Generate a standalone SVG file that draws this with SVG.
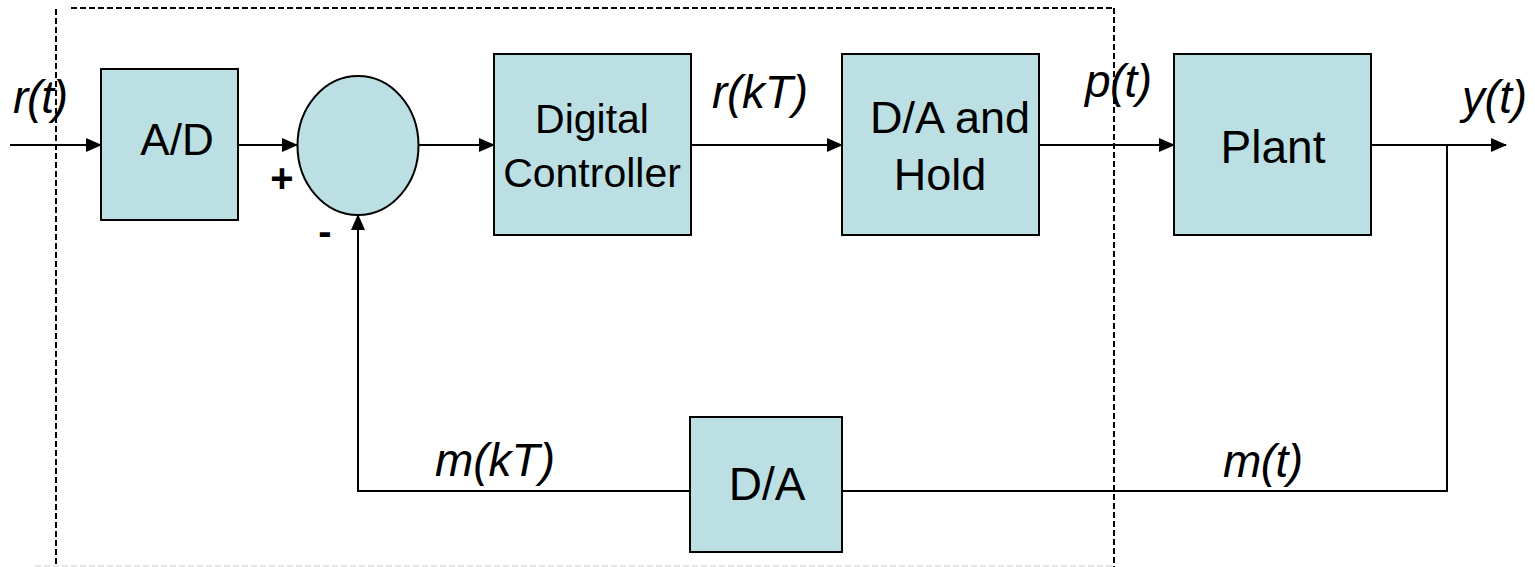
<svg xmlns="http://www.w3.org/2000/svg" width="1535" height="567" viewBox="0 0 1535 567">
  <style>
    .blk { fill: #BBDFE3; stroke: #000; stroke-width: 2; }
    .wire { fill: none; stroke: #000; stroke-width: 2; }
    .frame { fill: none; stroke: #000; stroke-width: 2; stroke-dasharray: 6 3; }
    .lbl { font-family: "Liberation Sans", Arial, sans-serif; fill: #000; text-anchor: middle; }
    .sig { font-family: "Liberation Sans", Arial, sans-serif; font-style: italic; fill: #000; font-size: 46px; }
  </style>
  <defs>
    <marker id="arr" markerWidth="16" markerHeight="14" refX="15" refY="7" orient="auto" markerUnits="userSpaceOnUse">
      <path d="M0,0 L16,7 L0,14 Z" fill="#000"/>
    </marker>
  </defs>
  <rect width="1535" height="567" fill="#fff"/>

  <!-- computer boundary -->
  <g id="boundary">
    <line class="frame" x1="71" y1="8" x2="1114" y2="8"/>
    <line class="frame" x1="56" y1="9" x2="56" y2="567"/>
    <line class="frame" x1="1114" y1="8" x2="1114" y2="567"/>
    <line x1="35" y1="566" x2="1114" y2="566" stroke="#ddd" stroke-width="1.5" stroke-dasharray="6 3"/>
  </g>

  <!-- connectors -->
  <g id="connectors">
    <line class="wire" x1="10" y1="145" x2="101" y2="145" marker-end="url(#arr)"/>
    <line class="wire" x1="238" y1="145" x2="297" y2="145" marker-end="url(#arr)"/>
    <line class="wire" x1="418" y1="145" x2="494" y2="145" marker-end="url(#arr)"/>
    <line class="wire" x1="691" y1="145" x2="842" y2="145" marker-end="url(#arr)"/>
    <line class="wire" x1="1039" y1="145" x2="1174" y2="145" marker-end="url(#arr)"/>
    <line class="wire" x1="1371" y1="145" x2="1506" y2="145" marker-end="url(#arr)"/>
    <polyline class="wire" points="1447,145 1447,491 842,491"/>
    <polyline class="wire" points="690,491 358,491 358,215" marker-end="url(#arr)"/>
  </g>

  <g id="ad">
    <rect class="blk" x="101" y="69" width="137" height="151"/>
    <text class="lbl" x="177" y="155" font-size="44">A/D</text>
  </g>

  <g id="sum">
    <ellipse class="blk" cx="358" cy="145.5" rx="60.5" ry="69.5"/>
    <text class="lbl" x="282" y="192" font-size="40" font-weight="bold">+</text>
    <text class="lbl" x="325" y="245" font-size="40" font-weight="bold">-</text>
  </g>

  <g id="controller">
    <rect class="blk" x="494" y="54" width="197" height="181"/>
    <text class="lbl" x="592" y="133" font-size="41">Digital</text>
    <text class="lbl" x="592" y="187" font-size="41">Controller</text>
  </g>

  <g id="dah">
    <rect class="blk" x="842" y="54" width="197" height="181"/>
    <text class="lbl" x="950" y="133" font-size="45">D/A and</text>
    <text class="lbl" x="940" y="190" font-size="45">Hold</text>
  </g>

  <g id="plant">
    <rect class="blk" x="1174" y="54" width="197" height="181"/>
    <text class="lbl" x="1273" y="163" font-size="46">Plant</text>
  </g>

  <g id="da">
    <rect class="blk" x="690" y="417" width="152" height="135"/>
    <text class="lbl" x="767" y="500" font-size="46">D/A</text>
  </g>

  <!-- signal labels -->
  <g id="signals">
    <text class="sig" x="13" y="113" textLength="55">r(t)</text>
    <text class="sig" x="712" y="108" textLength="96">r(kT)</text>
    <text class="sig" x="1085" y="97" textLength="67">p(t)</text>
    <text class="sig" x="1462" y="113" textLength="65">y(t)</text>
    <text class="sig" x="435" y="476" textLength="120">m(kT)</text>
    <text class="sig" x="1223" y="477" textLength="80">m(t)</text>
  </g>
</svg>
